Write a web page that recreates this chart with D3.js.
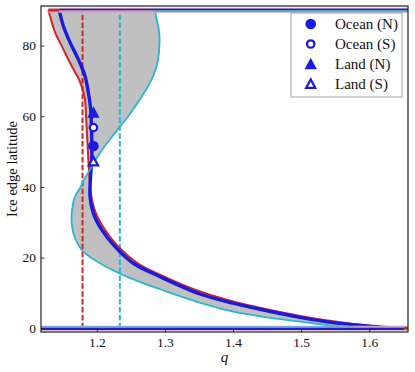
<!DOCTYPE html>
<html><head><meta charset="utf-8">
<script src="https://cdn.jsdelivr.net/npm/d3@7"></script>
<style>body{margin:0;background:#fff} svg{display:block} text{font-family:"Liberation Serif",serif;fill:#111}</style>
</head><body><svg id="c" width="415" height="372"></svg>
<script>
// ---------- data ----------
const xTicks = [1.2, 1.3, 1.4, 1.5, 1.6];
const yTicks = [0, 20, 40, 60, 80];
const xDomain = [1.118, 1.657];
const yDomain = [-1.05, 91.2];

const redLat = [90, 88.4, 83.8, 79, 74.2, 70.4, 67.6, 64.8, 60, 53.4, 47.7, 42, 37.3, 32.6, 27.9, 23.1, 18.4, 14.6, 10.4, 7.6, 5.4, 3.5, 2.0, 0.8, 0.3, 0];
const redQ   = [1.1287, 1.1312, 1.1386, 1.1507, 1.1631, 1.1738, 1.1792, 1.1826, 1.1841, 1.1860, 1.1875, 1.1895, 1.1920, 1.1985, 1.2120, 1.2315, 1.2600, 1.2990, 1.3515, 1.4000, 1.4494, 1.4983, 1.5468, 1.5963, 1.625, 1.657];

const blueLat = [90, 85.6, 80.9, 76.1, 71.4, 66.7, 61.9, 55.4, 47.7, 42, 37.3, 32.6, 27.9, 23.1, 18.4, 14.6, 9.7, 7.1, 5.0, 3.1, 1.6, 0.65, 0.25, 0];
const blueQ   = [1.1449, 1.1507, 1.1606, 1.1728, 1.1826, 1.1875, 1.1910, 1.1924, 1.1924, 1.1905, 1.1900, 1.1948, 1.2071, 1.2267, 1.2535, 1.2927, 1.3515, 1.4000, 1.4494, 1.4983, 1.5468, 1.5963, 1.622, 1.651];

const cyanLat = [90, 87.5, 83.7, 79, 74.2, 69.5, 64.8, 60, 55.3, 49.6, 44.9, 42, 39.7, 37.3, 32.6, 29.8, 27, 23.6, 21.7, 18.4, 14.6, 10.4, 6.4, 4.7, 3.1, 1.9, 0.74, 0.2, 0];
const cyanQ   = [1.2854, 1.2879, 1.2917, 1.2917, 1.2879, 1.2781, 1.2634, 1.2462, 1.2267, 1.2046, 1.1900, 1.1810, 1.1753, 1.1679, 1.1631, 1.1631, 1.1654, 1.1728, 1.1801, 1.2046, 1.2438, 1.3026, 1.3662, 1.4004, 1.4494, 1.4983, 1.5468, 1.5762, 1.578];

const redDashQ = 1.179;
const cyanDashQ = 1.2338;

const markerNames = ["Ocean (N)", "Ocean (S)", "Land (N)", "Land (S)"];
const markerQ   = [1.195, 1.195, 1.195, 1.195];
const markerLat = [51.6, 56.8, 61.1, 47.2];
const markerShape = ["circle", "circle", "triangle", "triangle"];
const markerFilled = [true, false, true, false];

// ---------- styles ----------
const RED = "#d02525", BLUE = "#1a1ae0", CYAN = "#2ab4d8", PINK = "#cfa3b6", GRAY = "#c0c0c0";
const FONT = "Liberation Serif";

const svg = d3.select("#c");
const L = 41, R = 408, T = 6, B = 332;
const x = d3.scaleLinear(xDomain, [L, R]);
const y = d3.scaleLinear(yDomain, [B, T]);

svg.append("defs").append("clipPath").attr("id", "clip")
  .append("rect").attr("x", L).attr("y", T).attr("width", R - L).attr("height", B - T);
const g = svg.append("g").attr("clip-path", "url(#clip)");

const toPts = (lats, qs) => lats.map((l, i) => ({lat: l, q: qs[i]}));
const red = toPts(redLat, redQ), blue = toPts(blueLat, blueQ), cyan = toPts(cyanLat, cyanQ);

const line = d3.line().x(d => x(d.q)).y(d => y(d.lat)).curve(d3.curveCatmullRom.alpha(0.5));

// fill between red and cyan
const fillPath = line(red) + "L" + line(cyan.slice().reverse()).slice(1) + "Z";
g.append("path").attr("d", fillPath).attr("fill", GRAY).attr("stroke", "none");

// dashed lines
[[redDashQ, RED], [cyanDashQ, CYAN]].forEach(([q, c]) => {
  g.append("line").attr("x1", x(q)).attr("x2", x(q)).attr("y1", y(0)).attr("y2", y(90))
    .attr("stroke", c).attr("stroke-width", 2).attr("stroke-dasharray", "5.5,2.4");
});

// curves
g.append("path").attr("d", line(red)).attr("fill", "none").attr("stroke", RED).attr("stroke-width", 2);
g.append("path").attr("d", line(blue)).attr("fill", "none").attr("stroke", BLUE).attr("stroke-width", 3.4);
g.append("path").attr("d", line(cyan)).attr("fill", "none").attr("stroke", CYAN).attr("stroke-width", 1.8);

// horizontal segments at 90 and 0
function hseg(q1, q2, lat, color, w, off) {
  g.append("line").attr("x1", x(q1)).attr("x2", x(q2))
    .attr("y1", y(lat) + off).attr("y2", y(lat) + off)
    .attr("stroke", color).attr("stroke-width", w);
}
// top
hseg(redQ[0], xDomain[1], 90, PINK, 5, 0);
hseg(redQ[0], blueQ[0], 90, RED, 2.5, 0);
hseg(blueQ[0], xDomain[1], 90, BLUE, 1.6, -0.8);
hseg(cyanQ[0], xDomain[1], 90, CYAN, 1.4, 0.8);
// bottom
hseg(xDomain[0], xDomain[1], 0, PINK, 5, 0);
hseg(blueQ[blueQ.length - 1], xDomain[1], 0, RED, 2.5, 0);
hseg(xDomain[0], blueQ[blueQ.length - 1], 0, BLUE, 2.2, 0.6);
hseg(xDomain[0], cyanQ[cyanQ.length - 1], 0, CYAN, 1.3, -1.2);

// markers
function marker(sel, shape, filled, cx, cy) {
  if (shape === "circle") {
    if (filled) sel.append("circle").attr("cx", cx).attr("cy", cy).attr("r", 5.3).attr("fill", BLUE);
    else sel.append("circle").attr("cx", cx).attr("cy", cy).attr("r", 3.7).attr("fill", "#fff")
      .attr("stroke", BLUE).attr("stroke-width", 2.3);
  } else {
    const h = filled ? 6.2 : 4.6;
    const p = sel.append("path").attr("d", `M${cx},${cy - h}L${cx - h},${cy + h * 0.85}L${cx + h},${cy + h * 0.85}Z`);
    if (filled) p.attr("fill", BLUE);
    else p.attr("fill", "#fff").attr("stroke", BLUE).attr("stroke-width", 2.2);
  }
}
const mg = svg.append("g");
markerNames.forEach((n, i) => marker(mg, markerShape[i], markerFilled[i], x(markerQ[i]), y(markerLat[i])));

// axes
const xAxis = d3.axisBottom(x).tickValues(xTicks).tickFormat(d3.format(".1f")).tickSizeInner(-3.5).tickSizeOuter(0).tickPadding(5);
const yAxis = d3.axisLeft(y).tickValues(yTicks).tickFormat(d3.format("d")).tickSizeInner(-3.5).tickSizeOuter(0).tickPadding(5);
const gx = svg.append("g").attr("transform", `translate(0,${B})`).call(xAxis);
const gy = svg.append("g").attr("transform", `translate(${L},0)`).call(yAxis);
[gx, gy].forEach(a => {
  a.attr("font-family", FONT).attr("font-size", 13.5);
  a.select(".domain").remove();
  a.selectAll("line").attr("stroke", "#222").attr("stroke-width", 0.9);
  a.selectAll("text").attr("fill", "#111");
});

// frame
svg.append("rect").attr("x", L).attr("y", T).attr("width", R - L).attr("height", B - T)
  .attr("fill", "none").attr("stroke", "#222").attr("stroke-width", 1.2);

// labels
svg.append("text").attr("x", (L + R) / 2).attr("y", 361.5).attr("text-anchor", "middle")
  .attr("font-family", FONT).attr("font-style", "italic").attr("font-size", 15).text("q");
svg.append("text").attr("transform", "translate(12,169) rotate(-90)").attr("text-anchor", "middle")
  .attr("dy", "0.35em").attr("font-family", FONT).attr("font-size", 14.5).text("Ice edge latitude");

// legend
const lg = svg.append("g");
lg.append("rect").attr("x", 291).attr("y", 13).attr("width", 111).attr("height", 84)
  .attr("fill", "#fff").attr("stroke", "#a0a0a0").attr("stroke-width", 1);
markerNames.forEach((n, i) => {
  const cy = 24 + i * 20;
  marker(lg, markerShape[i], markerFilled[i], 310.7, cy);
  lg.append("text").attr("x", 335).attr("y", cy).attr("dy", "0.35em")
    .attr("font-family", FONT).attr("font-size", 15).text(n);
});
</script></body></html>
